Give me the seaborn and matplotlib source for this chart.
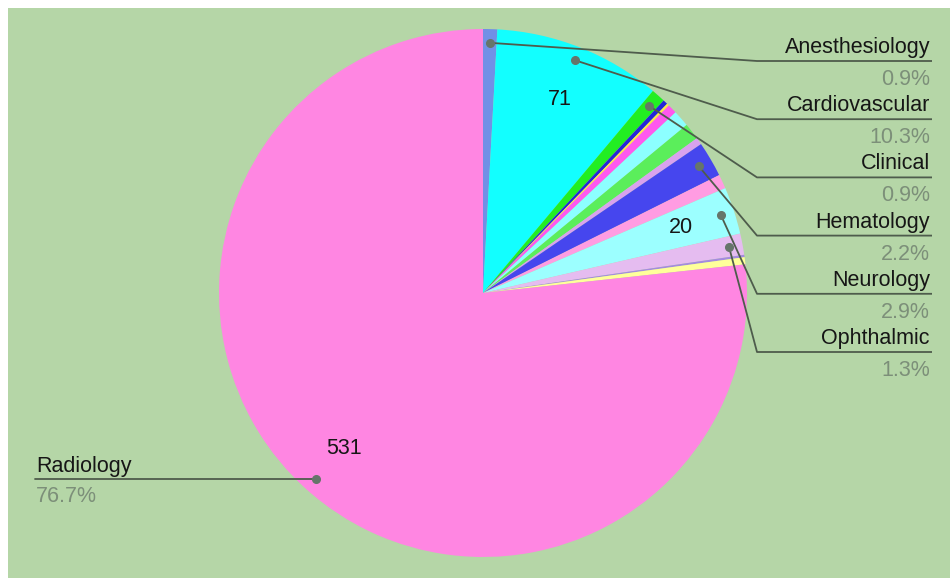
import numpy as np
import matplotlib
matplotlib.use("Agg")
import matplotlib.pyplot as plt
from matplotlib.patches import Rectangle
import seaborn as sns

# ---------------- data ----------------
categories = ["Anesthesiology", "Cardiovascular", "Clinical", "Dental", "Ear Nose Throat",
              "Gastro-Urology", "General Hospital", "General Surgery", "Genetics",
              "Hematology", "Microbiology", "Neurology", "Ophthalmic", "Orthopedic",
              "Pathology", "Radiology"]
values = [6, 71, 6, 2, 1, 4, 7, 7, 3, 15, 6, 20, 9, 1, 3, 531]
colors = ["#7190e6", "#12ffff", "#22ee22", "#2525d8", "#ffe84a", "#ff58ee", "#8cffff",
          "#5bee5b", "#d9a2ee", "#4646ee", "#ff9ce2", "#9cffff", "#e5bcf0", "#a58ae0",
          "#ffff9a", "#ff86e2"]
right_labels = ["Anesthesiology", "Cardiovascular", "Clinical", "Hematology",
                "Neurology", "Ophthalmic"]
left_labels = ["Radiology"]
value_label_min = 20

# ---------------- style ----------------
sns.set_theme(style="white")
plt.rcParams["font.family"] = ["Liberation Sans", "DejaVu Sans"]

W, H = 950, 580
BG = "#b5d6a7"
LINE = "#4e5c4c"
DOT = "#66756a"
PCT = "#7c8f79"
TXT = "#161616"
FS = 15.5


def Y(y):
    return H - y


fig = plt.figure(figsize=(W / 100, H / 100), dpi=100)
fig.patch.set_facecolor("white")
ax = fig.add_axes([0, 0, 1, 1])
ax.add_patch(Rectangle((8, Y(578)), W - 8, 570, color=BG, zorder=0, lw=0))

total = sum(values)
cx, cy, R = 483, Y(293), 264


def fmt(p):
    v = p * total / 100
    return f"{v:.0f}" if v >= value_label_min - 0.5 else ""


wedges, texts, autotexts = ax.pie(
    values, colors=colors, startangle=90, counterclock=False,
    center=(cx, cy), radius=R, autopct=fmt, pctdistance=0.79,
    wedgeprops=dict(linewidth=0),
    textprops=dict(fontsize=FS, color=TXT),
)
for t in autotexts:
    t.set_va("center")

ax.set_xlim(0, W)
ax.set_ylim(0, H)
ax.set_aspect("auto")
ax.axis("off")


def anchor(name):
    i = categories.index(name)
    w = wedges[i]
    mid = np.deg2rad((w.theta1 + w.theta2) / 2)
    return cx + 0.948 * R * np.cos(mid), cy + 0.948 * R * np.sin(mid), values[i]


for k, name in enumerate(right_labels):
    px, py, v = anchor(name)
    ly = 61 + k * 58.2
    ax.plot([px, 757, 932], [py, Y(ly), Y(ly)], color=LINE, lw=1.3, zorder=3,
            solid_capstyle="butt")
    ax.plot(px, py, "o", ms=5.5, color=DOT, zorder=4)
    ax.text(930, Y(ly - 8), name, ha="right", va="baseline", fontsize=FS, color=TXT)
    ax.text(930, Y(ly + 24), f"{v / total * 100:.1f}%", ha="right", va="baseline",
            fontsize=FS, color=PCT)

for name in left_labels:
    px, py, v = anchor(name)
    ax.plot([35, px], [py, py], color=LINE, lw=1.3, zorder=3)
    ax.plot(px, py, "o", ms=5.5, color=DOT, zorder=4)
    ax.text(36, py + 7, name, ha="left", va="baseline", fontsize=FS, color=TXT)
    ax.text(36, py - 23, f"{v / total * 100:.1f}%", ha="left", va="baseline",
            fontsize=FS, color=PCT)

fig.savefig("out.png", dpi=100, facecolor=fig.get_facecolor())
